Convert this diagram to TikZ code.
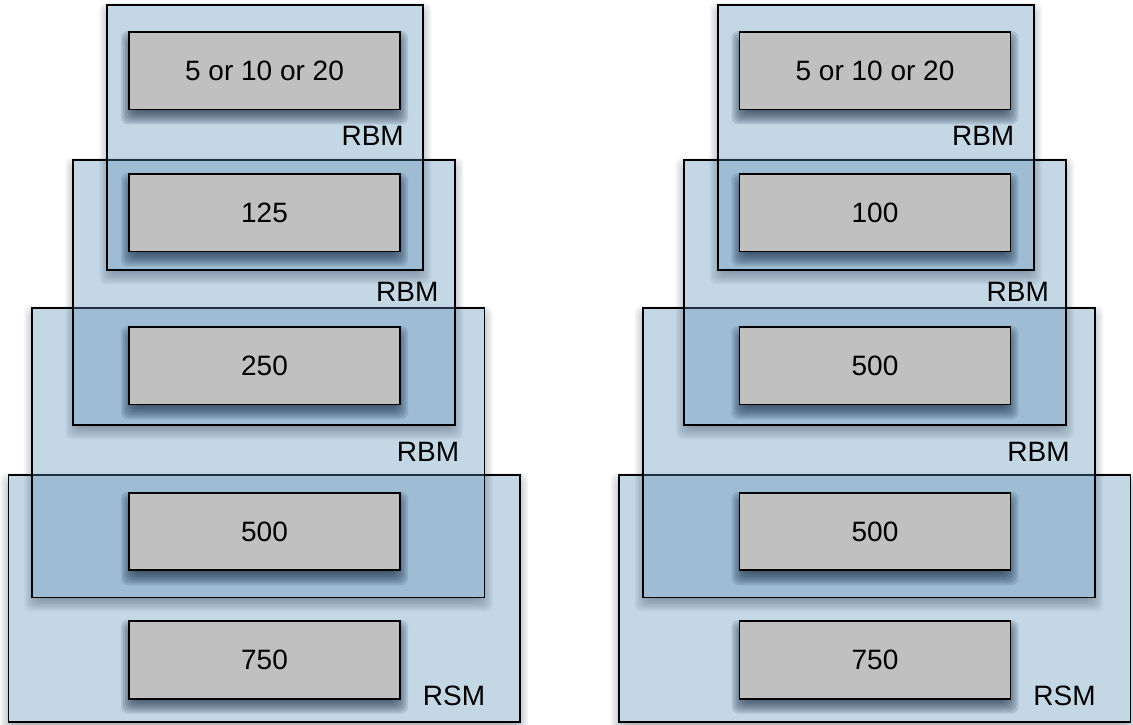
\documentclass[tikz,border=0pt]{standalone}
\usepackage{fontspec}
\setmainfont{Liberation Sans}
\definecolor{layerblue}{RGB}{86,141,181}
\definecolor{unitgray}{RGB}{192,192,192}
\definecolor{shadownavy}{RGB}{24,44,68}

% soft shadow: nested rounded rectangles of low opacity
% #1 cx, #2 cy, #3 width, #4 height, #5 downward offset, #6 opacity per step
\newcommand\softshade[6]{%
  \foreach \k in {1,...,10}{%
    \pgfmathsetmacro\hw{#3/2+10-2*\k}%
    \pgfmathsetmacro\hh{#4/2+10-2*\k}%
    \fill[shadownavy, opacity=#6, rounded corners=7pt]
      ({#1-\hw},{#2+#5-\hh}) rectangle ({#1+\hw},{#2+#5+\hh});
  }}

% shadow of a translucent layer box, kept outside the box itself
\newcommand\layershade[4]{%
  \begin{scope}[even odd rule]
    \clip (-200,-200) rectangle (1400,1000)
      ({#1-#3/2},{#2-#4/2}) rectangle ({#1+#3/2},{#2+#4/2});
    \softshade{#1}{#2}{#3}{#4}{6}{0.06}
  \end{scope}}

\tikzset{
  layerbox/.style={draw=black, line width=1.7pt, fill=layerblue,
    fill opacity=0.35, inner sep=0pt},
  unitbox/.style={draw=black, line width=1.9pt, fill=unitgray,
    minimum width=271, minimum height=77.5, inner sep=0pt},
  tag/.style={anchor=base east, inner sep=0pt},
}

% one stacked network: #1 name prefix, #2 second unit count, #3 third unit count
\newcommand\netstack[3]{%
  % layer boxes, lowest first
  \layershade{264.2}{598.5}{511.7}{247}
  \node[layerbox, minimum width=511.7, minimum height=247] (#1D) at (264.2,598.5) {};
  \layershade{258.4}{452.7}{452.2}{289.3}
  \node[layerbox, minimum width=452.2, minimum height=289.3] (#1C) at (258.4,452.7) {};
  \layershade{264.3}{292.5}{382}{265.6}
  \node[layerbox, minimum width=382, minimum height=265.6] (#1B) at (264.3,292.5) {};
  \layershade{265.3}{137.5}{316}{265.6}
  \node[layerbox, minimum width=316, minimum height=265.6] (#1A) at (265.3,137.5) {};
  % unit boxes
  \softshade{264.5}{70.7}{271}{77.5}{7}{0.14}
  \node[unitbox] (#1u1) at (264.5,70.7) {5 or 10 or 20};
  \softshade{264.5}{212.7}{271}{77.5}{7}{0.14}
  \node[unitbox] (#1u2) at (264.5,212.7) {#2};
  \softshade{264.5}{365.7}{271}{77.5}{7}{0.14}
  \node[unitbox] (#1u3) at (264.5,365.7) {#3};
  \softshade{264.5}{531.5}{271}{77.5}{7}{0.14}
  \node[unitbox] (#1u4) at (264.5,531.5) {500};
  \softshade{264.5}{659.8}{271}{77.5}{7}{0.14}
  \node[unitbox] (#1u5) at (264.5,659.8) {750};
  % model labels
  \node[tag] (#1tA) at (404,145.7) {RBM};
  \node[tag] (#1tB) at (438.6,301) {RBM};
  \node[tag] (#1tC) at (459.3,461) {RBM};
  \node[tag] (#1tD) at (485.3,705.7) {RSM};
}

\begin{document}
\begin{tikzpicture}[x=1pt, y=-1pt, font=\fontsize{28}{33}\selectfont]
  \useasboundingbox (0,0) rectangle (1133,724);
  \netstack{l}{125}{250}
  \begin{scope}[xshift=610.5pt]
    \netstack{r}{100}{500}
  \end{scope}
\end{tikzpicture}
\end{document}
